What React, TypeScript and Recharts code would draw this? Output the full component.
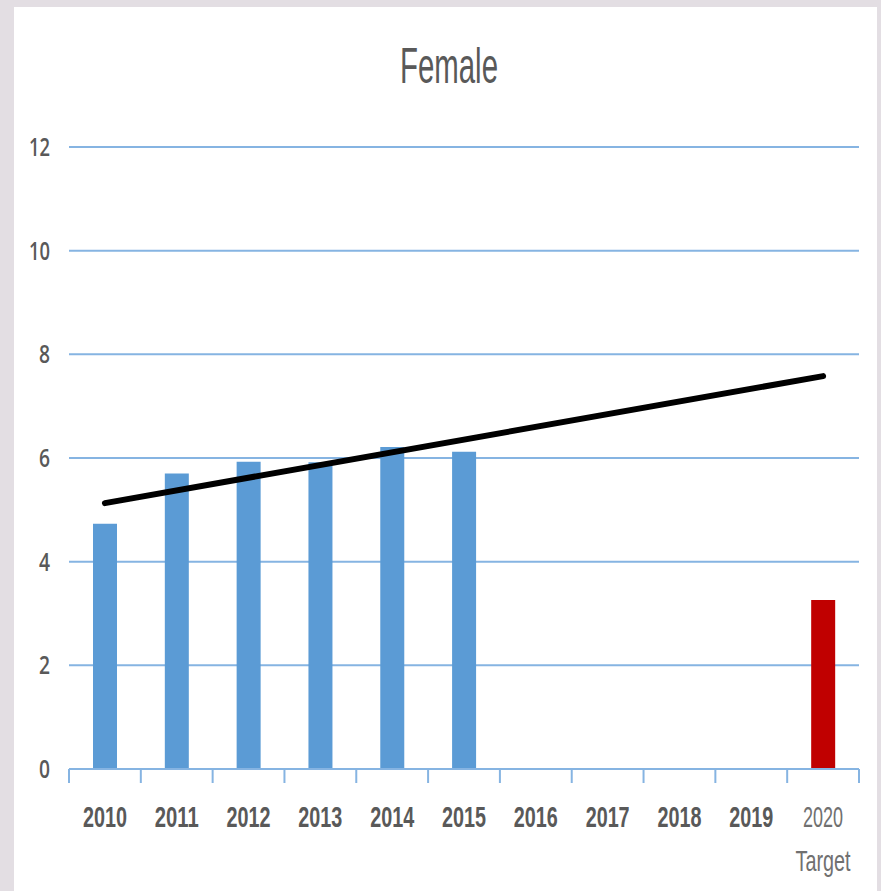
import React from 'react';
import { ComposedChart, Bar, Line, XAxis, YAxis, CartesianGrid, Cell } from 'recharts';

const categories = ['2010', '2011', '2012', '2013', '2014', '2015', '2016', '2017', '2018', '2019', '2020 Target'];
const barValues: (number | null)[] = [4.73, 5.7, 5.93, 5.92, 6.21, 6.12, null, null, null, null, 3.26];
const trendValues: (number | null)[] = [5.13, null, null, null, null, null, null, null, null, null, 7.58];
const yTicks = [0, 2, 4, 6, 8, 10, 12];
// category boundaries, in category-index units
const edgeTicks = [-0.5, 0.5, 1.5, 2.5, 3.5, 4.5, 5.5, 6.5, 7.5, 8.5, 9.5, 10.5];

const data = categories.map((c, i) => ({ name: c, idx: i, value: barValues[i], trend: trendValues[i] }));

const BLUE = '#5B9BD5';
const RED = '#C00000';
const GRID = '#86b4e2';
const TEXT = '#595959';

const EmptyTick = () => <g />;

const YTick = (props: any) => {
  const { x, y, payload } = props;
  const s = String(payload.value);
  return (
    <text x={x} y={y + 9} textAnchor="end" fill={TEXT} fontSize={25} fontWeight={600}
      fontFamily="'Open Sans', sans-serif" textLength={s.length === 2 ? 21 : 11} lengthAdjust="spacingAndGlyphs">
      {s}
    </text>
  );
};

const XTick = (props: any) => {
  const { x, y, payload } = props;
  const v = String(payload.value);
  if (v.indexOf('Target') >= 0) {
    return (
      <g>
        <text x={x} y={y + 42} textAnchor="middle" fill="#707070" fontSize={30} fontWeight={400}
          fontFamily="'Liberation Sans', sans-serif" textLength={40} lengthAdjust="spacingAndGlyphs">2020</text>
        <text x={x} y={y + 86} textAnchor="middle" fill="#707070" fontSize={30} fontWeight={400}
          fontFamily="'Liberation Sans', sans-serif" textLength={55} lengthAdjust="spacingAndGlyphs">Target</text>
      </g>
    );
  }
  return (
    <text x={x} y={y + 42} textAnchor="middle" fill={TEXT} fontSize={30} fontWeight={700}
      fontFamily="'Liberation Sans', sans-serif" textLength={44} lengthAdjust="spacingAndGlyphs">{v}</text>
  );
};

export default function App() {
  return (
    <div style={{ position: 'fixed', left: 0, top: 0, width: 881, height: 891, background: '#e3dee3', overflow: 'hidden' }}>
      <div style={{ position: 'absolute', left: 14, top: 7, width: 863, height: 884, background: '#ffffff' }} />
      <svg style={{ position: 'absolute', left: 0, top: 0 }} width={881} height={120}>
        <text x={449} y={83} textAnchor="middle" fill={TEXT} fontSize={50}
          fontFamily="'Liberation Sans', sans-serif" textLength={98} lengthAdjust="spacingAndGlyphs">Female</text>
      </svg>
      <div style={{ position: 'absolute', left: 0, top: 0 }}>
        <ComposedChart width={881} height={891} data={data} margin={{ top: 147, right: 22, bottom: 0, left: 0 }}>
          <CartesianGrid horizontal vertical={false} stroke={GRID} strokeWidth={2} />
          <XAxis xAxisId="a-edges" dataKey="idx" type="number" domain={[-0.5, 10.5]} ticks={edgeTicks}
            tick={<EmptyTick />} tickSize={14} height={14} axisLine={{ stroke: GRID, strokeWidth: 2 }}
            tickLine={{ stroke: GRID, strokeWidth: 2 }} allowDataOverflow interval={0} />
          <XAxis xAxisId="b-cat" dataKey="name" type="category" axisLine={false} tickLine={false}
            tickSize={0} height={108} tick={<XTick />} interval={0} />
          <YAxis type="number" domain={[0, 12]} ticks={yTicks} width={69} axisLine={false} tickLine={false}
            tickSize={0} tickMargin={19} tick={<YTick />} />
          <Bar xAxisId="b-cat" dataKey="value" barSize={24} isAnimationActive={false}>
            {data.map((d, i) => (
              <Cell key={i} fill={i === data.length - 1 ? RED : BLUE} />
            ))}
          </Bar>
          <Line xAxisId="b-cat" dataKey="trend" stroke="#000000" strokeWidth={6} dot={false}
            connectNulls isAnimationActive={false} strokeLinecap="round" />
        </ComposedChart>
      </div>
    </div>
  );
}
